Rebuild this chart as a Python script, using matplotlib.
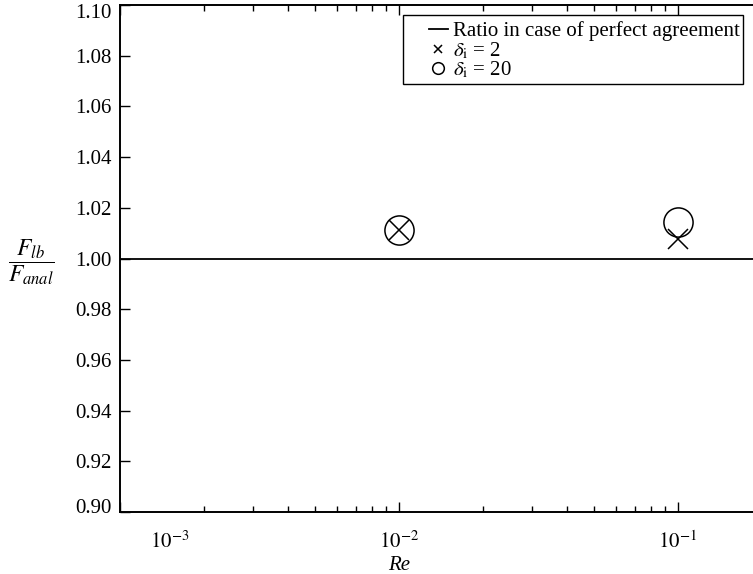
import numpy as np
import matplotlib.pyplot as plt
import matplotlib.transforms as mtransforms
from matplotlib.patches import Rectangle

plt.rcParams['font.family'] = ['Liberation Serif', 'DejaVu Serif']
plt.rcParams['mathtext.fontset'] = 'stix'

# data
re = [1e-2, 1e-1]
ratio_delta2 = [1.0113, 1.0075]
ratio_delta20 = [1.0113, 1.0145]
perfect_ratio = 1.0

y_ticks = [0.90, 0.92, 0.94, 0.96, 0.98, 1.00, 1.02, 1.04, 1.06, 1.08, 1.10]
x_ticks = [1e-3, 1e-2, 1e-1]
x_tick_labels = [r'$10^{-3}$', r'$10^{-2}$', r'$10^{-1}$']

fig = plt.figure(figsize=(7.53, 5.74), dpi=100)
ax = fig.add_axes([120 / 753, 1 - 512 / 574, 1 - 120 / 753, 507 / 574])

ax.axhline(perfect_ratio, color='black', lw=1.3,
           label='Ratio in case of perfect agreement')
ax.plot(re, ratio_delta2, linestyle='none', marker='x', color='black',
        markersize=15, markeredgewidth=1.1, label=r'$\delta_{\mathrm{i}}$ = 2')
ax.plot(re, ratio_delta20, linestyle='none', marker='o', color='black',
        markerfacecolor='none', markersize=21, markeredgewidth=1.1,
        label=r'$\delta_{\mathrm{i}}$ = 20')

ax.set_xscale('log')
ax.set_xlim(1e-3, 0.186)
ax.set_ylim(0.90, 1.10)
ax.set_yticks(y_ticks)
ax.set_yticklabels([f'{v:.2f}' for v in y_ticks])
ax.set_xticks(x_ticks)
ax.set_xticklabels(x_tick_labels)

ax.spines['right'].set_visible(False)
for s in ['left', 'bottom', 'top']:
    ax.spines[s].set_linewidth(1.4)
ax.tick_params(which='both', direction='in', top=True, right=False, labelsize=15, width=1.0)
ax.tick_params(which='major', length=7)
ax.tick_params(which='minor', length=4)
ax.tick_params(axis='x', pad=14)
ax.tick_params(axis='y', pad=6)

# end labels are pushed inwards, like in the original
def shift(label, dx, dy):
    label.set_transform(label.get_transform() + mtransforms.ScaledTranslation(dx / 72, dy / 72, fig.dpi_scale_trans))

shift(ax.get_xticklabels()[0], 36, 0)
shift(ax.get_yticklabels()[0], 0, 4)
shift(ax.get_yticklabels()[-1], 0, -4)

fig.text(399 / 753, 1 - 565 / 574, 'Re', style='italic', fontsize=15,
         ha='center', va='center')
fig.text(31 / 753, 1 - 262 / 574, r'$\dfrac{F_{lb}}{F_{anal}}$', fontsize=17,
         ha='center', va='center')

leg = ax.legend(loc='upper right', bbox_to_anchor=(743 / 753, 1 - 18 / 574),
                bbox_transform=fig.transFigure, borderaxespad=0, fontsize=15,
                frameon=False, handlelength=0.9, handletextpad=0.25,
                labelspacing=-0.04, borderpad=0.15, markerscale=0.4)

# legend box is wider on the left than the entries need
fig.canvas.draw()
bb = leg.get_window_extent()
top = fig.bbox.height - 15
fig.add_artist(Rectangle((403, bb.y0), 743 - 403, top - bb.y0,
                         transform=None, fill=False, edgecolor='black', lw=1.0))

fig.savefig('out.png', dpi=100)
